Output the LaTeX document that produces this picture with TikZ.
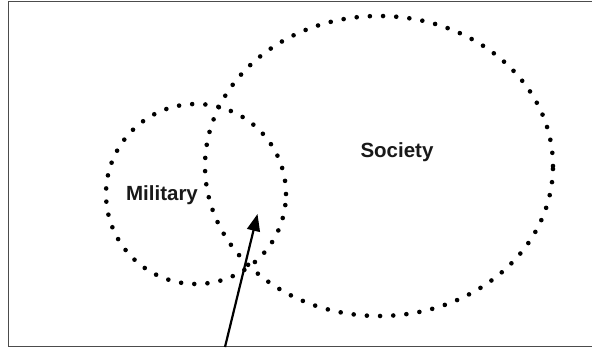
\documentclass[tikz,border=0pt]{standalone}
\usepackage{fontspec}
\setmainfont{Liberation Sans}
\usetikzlibrary{shapes.geometric,arrows.meta}
\begin{document}
\begin{tikzpicture}[x=1pt,y=-1pt,
  dotty/.style={draw, ellipse, inner sep=0pt, line width=4.6pt, line cap=round, dash pattern=on 0pt off 13.2pt},
  lbl/.style={font=\fontsize{20.5}{23}\selectfont\bfseries, text=black!90},
  arr/.style={line width=2.2pt, -{Triangle[length=17pt,width=13pt]}}]
\useasboundingbox (0,0) rectangle (592,348);
\draw[line width=1.6pt, black!70] (8.5,1.5) rectangle (610,346.5);
\node[dotty, minimum width=180pt, minimum height=180pt] (mil) at (196,194) {};
\node[dotty, minimum width=348pt, minimum height=300pt] (soc) at (379,166) {};
\node[lbl] (miltext) at (162,195) {Military};
\node[lbl] (soctext) at (397,152) {Society};
\coordinate (a0) at (225,347);
\coordinate (a1) at (257.5,214);
\draw[arr] (a0) -- (a1);
\end{tikzpicture}
\end{document}
